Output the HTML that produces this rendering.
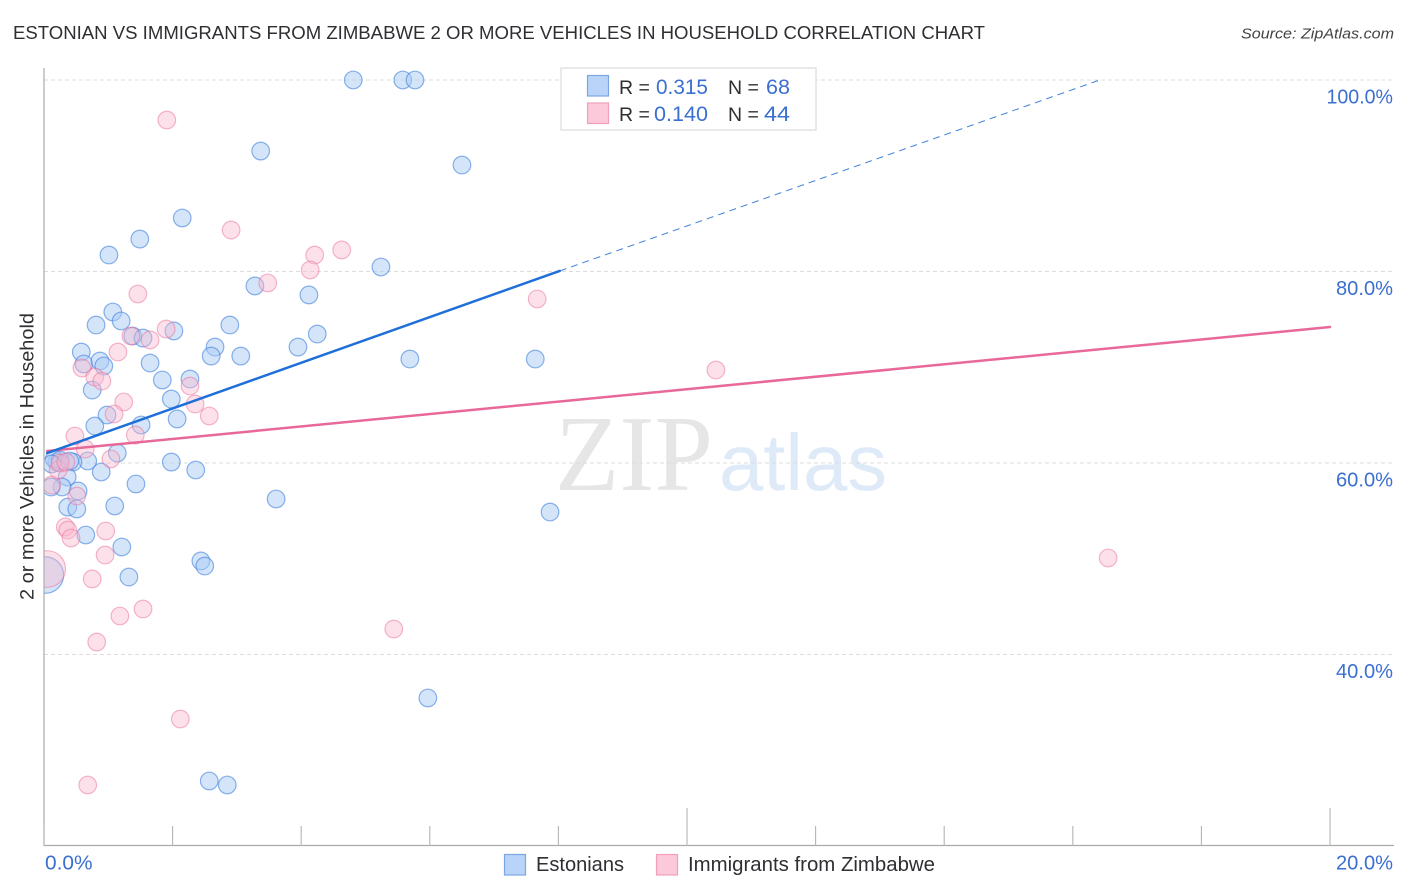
<!DOCTYPE html>
<html lang="en">
<head>
<meta charset="utf-8">
<title>Estonian vs Immigrants from Zimbabwe correlation chart</title>
<style>
html,body{margin:0;padding:0;background:#fff;}
body{width:1406px;height:892px;overflow:hidden;}
svg{display:block;font-family:"Liberation Sans",sans-serif;}
</style>
</head>
<body>
<svg id="chart" width="1406" height="892" viewBox="0 0 1406 892" xmlns="http://www.w3.org/2000/svg">
  <defs>
    <clipPath id="plot-clip"><rect x="44.5" y="60" width="1350" height="786"></rect></clipPath>
  </defs>
  <rect x="0" y="0" width="1406" height="892" fill="#ffffff"></rect>
  <text x="13" y="39" font-size="18.5" fill="#2f2f33" textLength="972" lengthAdjust="spacingAndGlyphs">ESTONIAN VS IMMIGRANTS FROM ZIMBABWE 2 OR MORE VEHICLES IN HOUSEHOLD CORRELATION CHART</text>
  <text x="1394" y="38.5" font-size="15" font-style="italic" fill="#444" text-anchor="end" textLength="153" lengthAdjust="spacingAndGlyphs">Source: ZipAtlas.com</text>
  <text transform="translate(33.5,600) rotate(-90)" font-size="19.5" fill="#2f2f33" textLength="287" lengthAdjust="spacingAndGlyphs">2 or more Vehicles in Household</text>
  <g id="watermark">
    <text x="555" y="490" font-family="'Liberation Serif',serif" font-size="108" fill="#e6e6e6" textLength="158" lengthAdjust="spacingAndGlyphs">ZIP</text>
    <text x="719" y="490" font-size="80" fill="#dfeaf8" textLength="168" lengthAdjust="spacingAndGlyphs">atlas</text>
  </g>
  <g id="grid"></g>
  <g id="axes"></g>
  <g id="marks-blue" clip-path="url(#plot-clip)"></g>
  <g id="marks-pink" clip-path="url(#plot-clip)"></g>
  <g id="trend"></g>
  <g id="y-labels"></g>
  <g id="x-labels"></g>

  <g>
    <rect x="561" y="68" width="255" height="62" fill="#ffffff" stroke="#e2e2e2" stroke-width="1.5"></rect>
    <rect x="587.5" y="75.5" width="21" height="20.5" fill="#b9d4f8" stroke="#7aa6e2" stroke-width="1.2"></rect>
    <rect x="587.5" y="103" width="21" height="20.5" fill="#fcc9da" stroke="#f0a0bb" stroke-width="1.2"></rect>
    <text x="619" y="94" font-size="19.5" fill="#2f2f33">R =</text>
    <text x="708" y="94" font-size="21" fill="#3b6fd0" text-anchor="end" textLength="52" lengthAdjust="spacingAndGlyphs">0.315</text>
    <text x="728" y="94" font-size="19.5" fill="#2f2f33">N =</text>
    <text x="790" y="94" font-size="21" fill="#3b6fd0" text-anchor="end" textLength="24" lengthAdjust="spacingAndGlyphs">68</text>
    <text x="619" y="121" font-size="19.5" fill="#2f2f33">R =</text>
    <text x="708" y="121" font-size="21" fill="#3b6fd0" text-anchor="end" textLength="54" lengthAdjust="spacingAndGlyphs">0.140</text>
    <text x="728" y="121" font-size="19.5" fill="#2f2f33">N =</text>
    <text x="790" y="121" font-size="21" fill="#3b6fd0" text-anchor="end" textLength="26" lengthAdjust="spacingAndGlyphs">44</text>
  </g>

  <g>
    <g>
      <rect x="504.5" y="854.5" width="21" height="20.5" fill="#b9d4f8" stroke="#7aa6e2" stroke-width="1.2"></rect>
      <text x="536" y="871" font-size="20" fill="#2f2f33" textLength="88" lengthAdjust="spacingAndGlyphs">Estonians</text>
    </g>
    <g>
      <rect x="656.5" y="854.5" width="21" height="20.5" fill="#fcc9da" stroke="#f0a0bb" stroke-width="1.2"></rect>
      <text x="688" y="871" font-size="20" fill="#2f2f33" textLength="247" lengthAdjust="spacingAndGlyphs">Immigrants from Zimbabwe</text>
    </g>
  </g>
</svg>
<script>
const yTickValues = [100, 80, 60, 40];
const yTickLabels = ["100.0%", "80.0%", "60.0%", "40.0%"];
const xTickValues = [0, 2, 4, 6, 8, 10, 12, 14, 16, 18, 20];
const xTickMajor = [0, 0, 0, 0, 0, 1, 0, 0, 0, 0, 1];
const xEdgeLabelValues = [0, 20];
const xEdgeLabels = ["0.0%", "20.0%"];

const estoniansX = [4.81,5.58,5.77,3.37,6.50,2.15,1.49,1.01,5.24,3.28,4.12,1.07,1.20,0.81,2.89,2.02,1.38,1.54,4.25,2.66,3.95,2.60,3.06,0.58,5.69,7.64,0.62,0.87,0.93,1.65,0.75,1.84,2.27,1.98,0.98,2.07,0.79,1.51,1.14,1.98,2.36,0.68,0.89,1.43,0.53,3.61,0.37,0.51,1.10,7.87,0.65,1.21,2.44,2.50,1.32,5.97,2.57,2.85,0.02,0.45,0.36,0.28,0.11,0.20,0.16,0.25,0.40,0.12];
const estoniansY = [100,100,100,92.58,91.12,85.59,83.39,81.72,80.47,78.49,77.55,75.77,74.83,74.41,74.41,73.79,73.26,73.05,73.47,72.11,72.11,71.17,71.17,71.59,70.86,70.86,70.34,70.65,70.13,70.44,67.62,68.67,68.77,66.68,65.01,64.60,63.86,63.97,61.04,60.10,59.27,60.21,59.06,57.81,57.08,56.24,55.40,55.20,55.51,54.88,52.48,51.23,49.77,49.24,48.09,35.46,26.79,26.37,48.30,60.10,58.54,57.49,57.49,60.10,60.42,60.31,60.21,59.90];
const estoniansWeight = [1,1,1,1,1,1,1,1,1,1,1,1,1,1,1,1,1,1,1,1,1,1,1,1,1,1,1,1,1,1,1,1,1,1,1,1,1,1,1,1,1,1,1,1,1,1,1,1,1,1,1,1,1,1,1,1,1,1,4.6,1,1,1,1,1,1,1,1,1];

const zimbabweX = [1.91,2.91,4.21,4.63,4.14,3.48,1.46,7.67,1.90,1.35,1.65,1.15,0.59,10.45,0.79,0.90,2.27,1.24,2.35,1.09,2.57,1.42,0.48,0.64,1.04,0.12,0.51,0.33,0.37,0.42,0.96,0.95,16.55,0.75,1.54,1.18,5.44,0.82,2.12,0.68,0.05,0.22,0.25,0.34];
const zimbabweY = [95.82,84.33,81.72,82.25,80.16,78.80,77.65,77.13,73.99,73.26,72.85,71.59,69.92,69.71,68.98,68.56,68.04,66.37,66.16,65.12,64.91,62.92,62.82,61.46,60.42,57.70,56.55,53.32,53.00,52.17,52.90,50.39,50.08,47.89,44.75,44.02,42.66,41.30,33.26,26.37,48.93,59.27,60.00,60.10];
const zimbabweWeight = [1,1,1,1,1,1,1,1,1,1,1,1,1,1,1,1,1,1,1,1,1,1,1,1,1,1,1,1,1,1,1,1,1,1,1,1,1,1,1,1,4.6,1,1,1];

const estoniansTrendX = [0.05, 8.02];
const estoniansTrendY = [61.04, 80.06];
const estoniansProjectionX = [8.02, 16.42];
const estoniansProjectionY = [80.06, 100];
const zimbabweTrendX = [0.05, 20];
const zimbabweTrendY = [61.25, 74.2];

const SVG_NS = "http://www.w3.org/2000/svg";
function xScale(v) { return 44 + v * 64.3; }
function yScale(v) { return 80 + (100 - v) * 9.575; }
function rScale(w) { return 8.8 * Math.sqrt(w) * (w > 1 ? 0.97 : 1); }
function labelWidth(s) { return (s.length + 1) * 9.5; }
function make(tag, attrs, parent) {
  const el = document.createElementNS(SVG_NS, tag);
  for (const k in attrs) el.setAttribute(k, attrs[k]);
  parent.appendChild(el);
  return el;
}

const grid = document.getElementById("grid");
const axes = document.getElementById("axes");
const yLabels = document.getElementById("y-labels");
const xLabels = document.getElementById("x-labels");

yTickValues.forEach(function (v, i) {
  const line = make("line", {x1: 44, x2: 1393, y1: yScale(v), y2: yScale(v), stroke: "#dcdcdc", "stroke-width": 1, "stroke-dasharray": "4 3"}, grid);
  
  
  const t = make("text", {x: 1393, y: yScale(v) + 23.5, "font-size": 20, fill: "#3b6fd0", "text-anchor": "end", textLength: labelWidth(yTickLabels[i]), lengthAdjust: "spacingAndGlyphs"}, yLabels);
  
  
  t.textContent = yTickLabels[i];
});

const yAxisLine = make("line", {x1: 44, x2: 44, y1: 68, y2: 846, stroke: "#aaaaaa", "stroke-width": 1.2}, axes);


const xAxisLine = make("line", {x1: 44, x2: 1394, y1: 845.5, y2: 845.5, stroke: "#aaaaaa", "stroke-width": 1.2}, axes);



xTickValues.forEach(function (v, i) {
  const top = xTickMajor[i] ? 808 : 826;
  const tick = make("line", {x1: xScale(v), x2: xScale(v), y1: top, y2: 846, stroke: "#b4b4b4", "stroke-width": 1.1}, axes);
  
  
});

xEdgeLabelValues.forEach(function (v, i) {
  const isLast = i === xEdgeLabelValues.length - 1;
  const t = make("text", {x: isLast ? 1393 : xScale(v) + 1, y: 869.5, "font-size": 20, fill: "#3b6fd0", "text-anchor": isLast ? "end" : "start", textLength: labelWidth(xEdgeLabels[i]), lengthAdjust: "spacingAndGlyphs"}, xLabels);
  
  
  t.textContent = xEdgeLabels[i];
});

const blueGroup = document.getElementById("marks-blue");
estoniansX.forEach(function (v, i) {
  const c = make("circle", {cx: xScale(v), cy: yScale(estoniansY[i]), r: rScale(estoniansWeight[i]), fill: "#a9cbf5", "fill-opacity": 0.5, stroke: "#3f80dc", "stroke-opacity": 0.6, "stroke-width": 1.2}, blueGroup);
  
  
});

const pinkGroup = document.getElementById("marks-pink");
zimbabweX.forEach(function (v, i) {
  const c = make("circle", {cx: xScale(v), cy: yScale(zimbabweY[i]), r: rScale(zimbabweWeight[i]), fill: "#fab8ce", "fill-opacity": 0.42, stroke: "#ea6f9c", "stroke-opacity": 0.5, "stroke-width": 1.2}, pinkGroup);
  
  
});

const trend = document.getElementById("trend");
const blueProjection = make("line", {x1: xScale(estoniansProjectionX[0]), y1: yScale(estoniansProjectionY[0]), x2: xScale(estoniansProjectionX[1]), y2: yScale(estoniansProjectionY[1]), stroke: "#3f80dc", "stroke-width": 1, "stroke-dasharray": "7 5"}, trend);


const zimbabweLine = make("line", {x1: xScale(zimbabweTrendX[0]), y1: yScale(zimbabweTrendY[0]), x2: xScale(zimbabweTrendX[1]), y2: yScale(zimbabweTrendY[1]), stroke: "#e8689a", "stroke-width": 2.5, "stroke-linecap": "round"}, trend);


const estoniansLine = make("line", {x1: xScale(estoniansTrendX[0]), y1: yScale(estoniansTrendY[0]), x2: xScale(estoniansTrendX[1]), y2: yScale(estoniansTrendY[1]), stroke: "#1f6fd8", "stroke-width": 2.5, "stroke-linecap": "round"}, trend);


</script>
</body>
</html>
